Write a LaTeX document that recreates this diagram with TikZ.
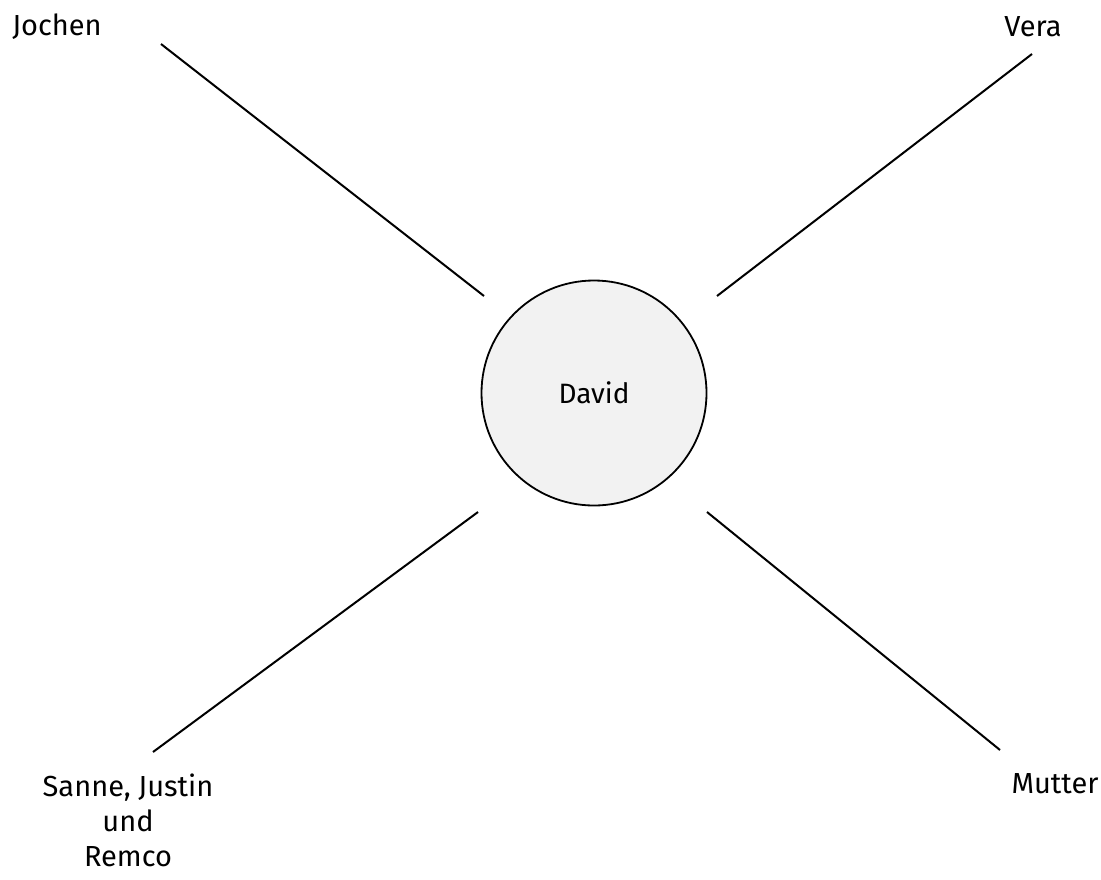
\documentclass[tikz,border=0pt]{standalone}
\usepackage{fontspec}
\setmainfont{Fira Sans}
\usepackage{tikz}
\usetikzlibrary{positioning}
\definecolor{centerfill}{HTML}{F2F2F2}
\tikzset{
	namelabel/.style={font=\fontsize{14.5}{17.5}\selectfont, align=center, inner sep=0pt},
	spoke/.style={line width=1pt, black}
}

\begin{document}
\begin{tikzpicture}[x=0.5pt, y=-0.5pt,
		centre/.style={draw, circle, fill=centerfill, line width=0.9pt,
			minimum size=112.5pt, inner sep=0pt,
			font=\fontsize{14}{16}\selectfont},
		]
		\useasboundingbox (0,0) rectangle (1101,879);
		
		%% -- Central person
		\node[centre] (david) at (594,393) {David};
		
		%% -- Names around
		\node[namelabel] (jochen) at (57,27) {Jochen};
		\node[namelabel] (vera) at (1033,27) {Vera};
		\node[namelabel] (sanne) at (128,820) {Sanne, Justin\\und\\Remco};
		\node[namelabel] (mutter) at (1055,784) {Mutter};
		
		%% -- Spoke end points
		\coordinate (jochen-in) at (484,296);
		\coordinate (jochen-out) at (161,44);
		\coordinate (vera-in) at (717,296);
		\coordinate (vera-out) at (1032,54);
		\coordinate (sanne-in) at (478,512);
		\coordinate (sanne-out) at (153,752);
		\coordinate (mutter-in) at (707,512);
		\coordinate (mutter-out) at (1000,750);
		
		%% -- Spokes
		\draw[spoke] (jochen-out) -- (jochen-in);
		\draw[spoke] (vera-out) -- (vera-in);
		\draw[spoke] (sanne-out) -- (sanne-in);
		\draw[spoke] (mutter-out) -- (mutter-in);
		
	\end{tikzpicture}
\end{document}
